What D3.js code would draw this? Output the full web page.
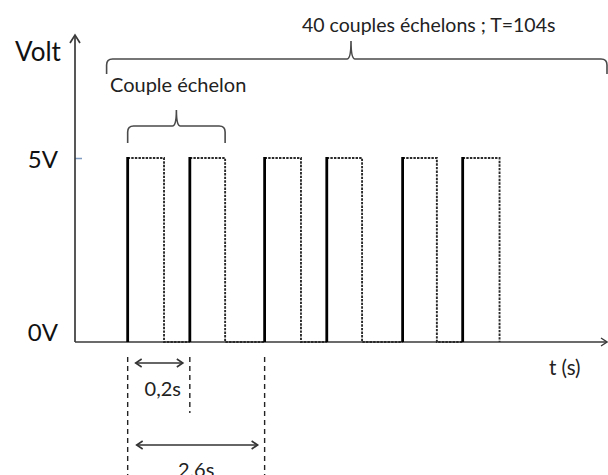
<!DOCTYPE html>
<html><head><meta charset="utf-8">
<script src="https://cdn.jsdelivr.net/npm/d3@7"></script>
<style>
html,body{margin:0;padding:0;background:#fff;}
svg{display:block;font-family:Lato,"Open Sans",sans-serif;}
</style></head>
<body>
<svg id="chart" width="608" height="475"></svg>
<script>
// ---- data (schematic time units, seconds) ----
const riseTimes = [1.0, 2.18, 3.6, 4.78, 6.22, 7.36];
const fallTimes = [1.69, 2.85, 4.29, 5.45, 6.87, 8.06];
const voltTicks = [0, 5];
const voltLabels = ["0V", "5V"];
const timeDomain = [0, 10.1];
const totalStart = 0.6;          // start of the "40 couples" brace
const titleText = "40 couples échelons ; T=104s";
const coupleText = "Couple échelon";
const gapLabels = ["0,2s", "2,6s"];

const svg = d3.select("#chart");
const x = d3.scaleLinear().domain(timeDomain).range([75, 607]);
const y = d3.scaleLinear().domain([0, 5]).range([342, 158]);
const axisCol = "#3a3a3a";
const txtCol = "#222";

// ---- axes ----
const yAxis = d3.axisLeft(y).tickValues(voltTicks).tickSize(-7).tickPadding(17)
  .tickFormat((d, i) => voltLabels[i]);
const gy = svg.append("g").attr("transform", `translate(${x(0)},0)`).call(yAxis);
gy.select(".domain").remove();
gy.selectAll(".tick line").attr("stroke", (d) => d === 0 ? "none" : "#7f9bbf").attr("stroke-width", 1.5);
gy.selectAll(".tick text").attr("font-size", 24).attr("fill", "#111")
  .attr("font-family", "Lato, 'Open Sans', sans-serif")
  .attr("dy", (d) => d === 0 ? "-0.05em" : "0.38em");

// y axis line + arrow
svg.append("line").attr("x1", x(0)).attr("x2", x(0)).attr("y1", y(0)).attr("y2", 35)
  .attr("stroke", axisCol).attr("stroke-width", 1.7);
svg.append("path").attr("d", `M${x(0)-5},${43} L${x(0)},${35} L${x(0)+5},${43}`)
  .attr("fill", "none").attr("stroke", axisCol).attr("stroke-width", 1.7);
// x axis line + arrow
svg.append("line").attr("x1", x(0)).attr("x2", x(timeDomain[1])).attr("y1", y(0)).attr("y2", y(0))
  .attr("stroke", axisCol).attr("stroke-width", 1.7);
svg.append("path").attr("d", `M${x(timeDomain[1])-6},${y(0)-4} L${x(timeDomain[1])},${y(0)} L${x(timeDomain[1])-6},${y(0)+4}`)
  .attr("fill", "none").attr("stroke", axisCol).attr("stroke-width", 1.4);

// axis titles
svg.append("text").attr("x", 15).attr("y", 52).attr("dy", "0.35em")
  .attr("font-size", 26).attr("fill", "#111").text("Volt");
svg.append("text").attr("x", 549).attr("y", 368).attr("dy", "0.35em")
  .attr("font-size", 20.5).attr("fill", txtCol).text("t (s)");

// ---- pulses ----
const pulses = riseTimes.map((r, i) => ({ r, f: fallTimes[i], next: riseTimes[i + 1] }));
svg.append("g").selectAll("path").data(pulses).join("path")
  .attr("d", (d) => `M${x(d.r)},${y(5)} H${x(d.f)} V${y(0)}` + (d.next !== undefined ? ` H${x(d.next)}` : ""))
  .attr("fill", "none").attr("stroke", "#2a2a2a").attr("stroke-width", 1.9)
  .attr("stroke-dasharray", "2.4,1.2");
svg.append("g").selectAll("line").data(pulses).join("line")
  .attr("x1", (d) => x(d.r)).attr("x2", (d) => x(d.r))
  .attr("y1", y(0)).attr("y2", y(5) - 1)
  .attr("stroke", "#000").attr("stroke-width", 2.8);

// ---- braces ----
function brace(x0, x1, xm, yTop, yEnd, yPeak) {
  const r = 6;
  return `M${x0},${yEnd} L${x0},${yTop + r} Q${x0},${yTop} ${x0 + r},${yTop} L${xm - 4},${yTop} Q${xm},${yTop} ${xm},${yPeak}` +
    ` Q${xm},${yTop} ${xm + 4},${yTop} L${x1 - r},${yTop} Q${x1},${yTop} ${x1},${yTop + r} L${x1},${yEnd}`;
}
svg.append("path").attr("d", brace(x(totalStart), x(timeDomain[1]), 351, 59, 74, 41))
  .attr("fill", "none").attr("stroke", "#4a4a4a").attr("stroke-width", 1.6);
svg.append("path").attr("d", brace(x(riseTimes[0]), x(fallTimes[1]), (x(riseTimes[0]) + x(fallTimes[1])) / 2, 126, 143, 110))
  .attr("fill", "none").attr("stroke", "#4a4a4a").attr("stroke-width", 1.6);

svg.append("text").attr("x", 302).attr("y", 25).attr("dy", "0.35em")
  .attr("font-size", 19.5).attr("fill", txtCol).text(titleText);
svg.append("text").attr("x", 110).attr("y", 85).attr("dy", "0.35em")
  .attr("font-size", 20).attr("fill", txtCol).text(coupleText);

// ---- timing annotations ----
const guides = [
  { t: riseTimes[0], y2: 475 },
  { t: riseTimes[1], y2: 413 },
  { t: riseTimes[2], y2: 475 }
];
svg.append("g").selectAll("line").data(guides).join("line")
  .attr("x1", (d) => x(d.t)).attr("x2", (d) => x(d.t))
  .attr("y1", 357).attr("y2", (d) => d.y2)
  .attr("stroke", "#222").attr("stroke-width", 1.4).attr("stroke-dasharray", "5,4");

function dblArrow(xa, xb, yy) {
  const g = svg.append("g").attr("fill", "none").attr("stroke", "#333").attr("stroke-width", 1.6);
  g.append("line").attr("x1", xa).attr("x2", xb).attr("y1", yy).attr("y2", yy);
  g.append("path").attr("d", `M${xa + 6},${yy - 4} L${xa},${yy} L${xa + 6},${yy + 4}`);
  g.append("path").attr("d", `M${xb - 6},${yy - 4} L${xb},${yy} L${xb - 6},${yy + 4}`);
}
dblArrow(x(riseTimes[0]) + 8, x(riseTimes[1]) - 7, 363);
dblArrow(x(riseTimes[0]) + 9, x(riseTimes[2]) - 7, 445);

svg.append("text").attr("x", (x(riseTimes[0]) + x(riseTimes[1])) / 2 + 4).attr("y", 389).attr("dy", "0.35em")
  .attr("text-anchor", "middle").attr("font-size", 20).attr("fill", txtCol).text(gapLabels[0]);
svg.append("text").attr("x", (x(riseTimes[0]) + x(riseTimes[2])) / 2).attr("y", 470).attr("dy", "0.35em")
  .attr("text-anchor", "middle").attr("font-size", 20).attr("fill", txtCol).text(gapLabels[1]);
</script>
</body></html>
